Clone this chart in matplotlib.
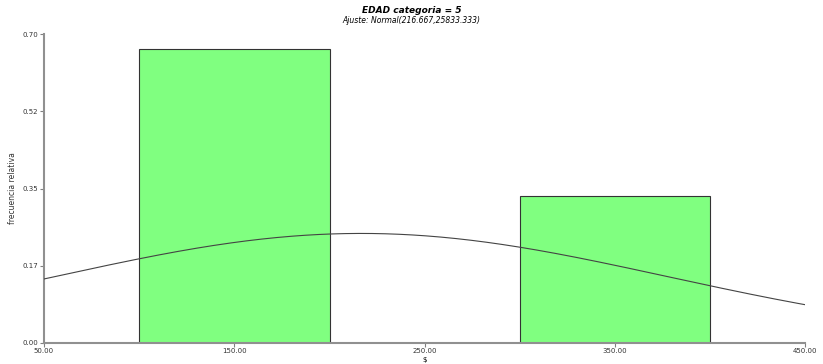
"""Histogram of $ for EDAD categoria = 5 with fitted normal curve."""

import matplotlib
matplotlib.use("Agg")
import matplotlib.pyplot as plt
import numpy as np

plt.rcParams["font.family"] = ["Liberation Sans Narrow", "DejaVu Sans"]

bin_left = [100, 300]
bin_width = 100
rel_freq = [0.667, 0.333]
fit_mean = 216.667
fit_var = 25833.333

x_ticks = [50, 150, 250, 350, 450]
x_tick_labels = ["50.00", "150.00", "250.00", "350.00", "450.00"]
y_ticks = [0.0, 0.175, 0.35, 0.525, 0.70]
y_tick_labels = ["0.00", "0.17", "0.35", "0.52", "0.70"]

fig = plt.figure(figsize=(8.23, 3.64), dpi=100)
ax = fig.add_axes([0.0535, 0.058, 0.925, 0.848])

ax.bar(bin_left, rel_freq, width=bin_width, align="edge",
       color="#80FF80", edgecolor="#333333", linewidth=0.8, zorder=2)

# normal density scaled to relative frequency per bin
xs = np.linspace(50, 450, 400)
sd = np.sqrt(fit_var)
ys = bin_width * np.exp(-(xs - fit_mean) ** 2 / (2 * fit_var)) / (sd * np.sqrt(2 * np.pi))
ax.plot(xs, ys, color="#444444", linewidth=0.8, zorder=3)

ax.set_xlim(50, 450)
ax.set_ylim(0, 0.70)
ax.set_xticks(x_ticks)
ax.set_xticklabels(x_tick_labels)
ax.set_yticks(y_ticks)
ax.set_yticklabels(y_tick_labels)
ax.tick_params(labelsize=5, length=3, width=0.8, color="#808080", pad=1,
               labelcolor="#333333")

for side in ("top", "right"):
    ax.spines[side].set_visible(False)
for side in ("left", "bottom"):
    ax.spines[side].set_color("#909090")
    ax.spines[side].set_linewidth(1.5)

ax.set_xlabel("$", fontsize=5)
ax.xaxis.set_label_coords(0.5, -0.054)
ax.xaxis.label.set_va("center")
ax.set_ylabel("frecuencia relativa", fontsize=5.5, color="#333333")
ax.yaxis.set_label_coords(-0.035, 0.5)

fig.text(0.5, 0.972, "EDAD categoria = 5", ha="center", va="center",
         fontsize=6.5, fontweight="bold", style="italic")
fig.text(0.5, 0.943, "Ajuste: Normal(216.667,25833.333)", ha="center", va="center",
         fontsize=5.5, style="italic")

fig.savefig("out.png", dpi=100)
plt.close(fig)
